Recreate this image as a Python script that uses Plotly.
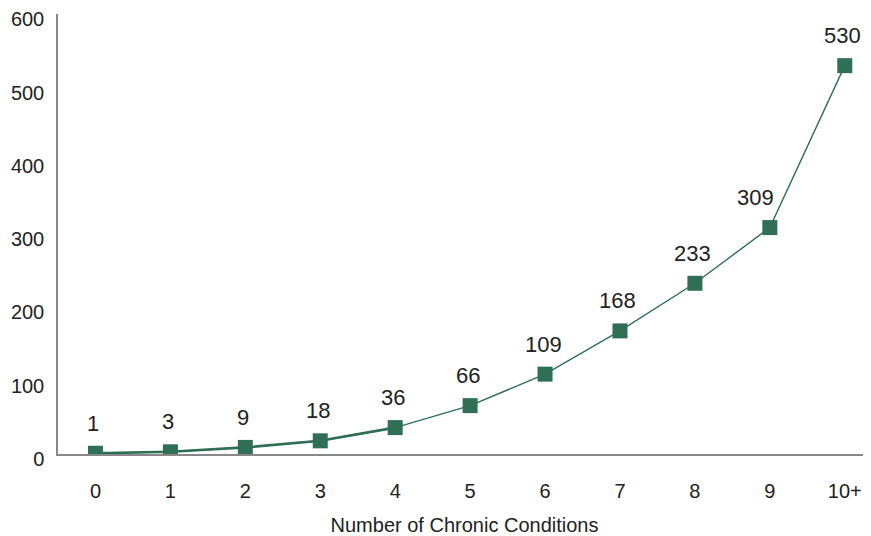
import plotly.graph_objects as go

categories = ["0", "1", "2", "3", "4", "5", "6", "7", "8", "9", "10+"]
values = [1, 3, 9, 18, 36, 66, 109, 168, 233, 309, 530]
y_ticks = [0, 100, 200, 300, 400, 500, 600]

green = "#2e6f55"
font = "Liberation Sans, Arial, Helvetica, sans-serif"
xs = list(range(len(categories)))

fig = go.Figure()
fig.add_trace(go.Scatter(x=xs[:5], y=values[:5], mode="lines",
                         line=dict(color=green, width=2.6), hoverinfo="skip"))
fig.add_trace(go.Scatter(x=xs, y=values, mode="lines+markers",
                         line=dict(color=green, width=1.4),
                         marker=dict(symbol="square", size=15, color=green)))
for x, v in zip(xs, values):
    # the label of the 9th category is nudged left so the line does not cross it
    dx = -14 if categories[x] == "9" else -2
    fig.add_annotation(x=x, y=v, text=str(v), showarrow=False, yshift=30, xshift=dx,
                       font=dict(size=22, color="#222", family=font))

# page body has an 8px margin; compensate so the plot sits like the reference
fig.update_layout(
    width=863, height=528, showlegend=False,
    margin=dict(l=50, r=0, t=6, b=79),
    paper_bgcolor="white", plot_bgcolor="white",
    font=dict(family=font, size=20, color="#222"),
    xaxis=dict(range=[-0.5, 10.35], tickvals=xs, ticktext=categories,
               showgrid=False, zeroline=False, showline=True, linecolor="#888",
               linewidth=1.5, ticks="", ticklabelstandoff=18,
               title=dict(text="Number of Chronic Conditions", standoff=20,
                          font=dict(size=20))),
    yaxis=dict(range=[0, 600.5], tickvals=y_ticks, showgrid=False, zeroline=False,
               showline=True, linecolor="#888", linewidth=1.5, ticks="",
               ticklabelstandoff=8, ticklabelshift=5),
)
fig.write_html("out.html")
